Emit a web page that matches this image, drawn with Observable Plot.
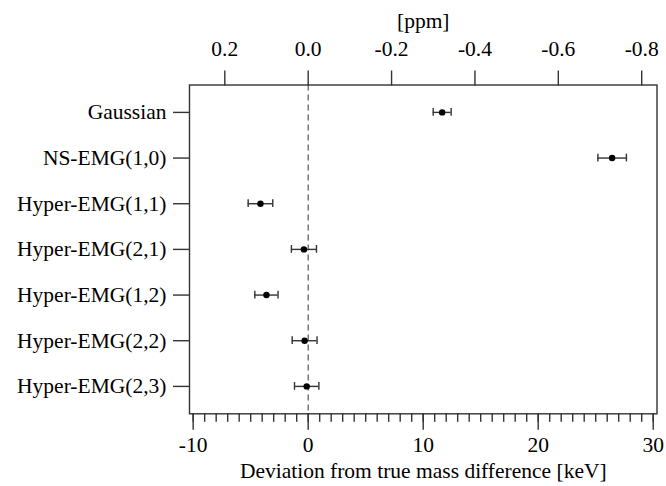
<!DOCTYPE html>
<html><head><meta charset="utf-8">
<script src="https://cdn.jsdelivr.net/npm/d3@7"></script>
<script src="https://cdn.jsdelivr.net/npm/@observablehq/plot@0.6"></script>
<style>html,body{margin:0;padding:0;background:#fff}</style>
</head><body><div id="chart"></div>
<script>
const models = ["Gaussian","NS-EMG(1,0)","Hyper-EMG(1,1)","Hyper-EMG(2,1)","Hyper-EMG(1,2)","Hyper-EMG(2,2)","Hyper-EMG(2,3)"];
const deviations = [11.65, 26.43, -4.15, -0.37, -3.63, -0.31, -0.13];
const uncertainties = [0.78, 1.24, 1.07, 1.09, 1.01, 1.08, 1.06];
const keVTicks = [-10, 0, 10, 20, 30];
const keVMinorTicks = d3.range(-10, 31, 1);
const ppmTicks = [0.2, 0.0, -0.2, -0.4, -0.6, -0.8];
const keVPerPpm = -36.25;
const xTitle = "Deviation from true mass difference [keV]";
const topTitle = "[ppm]";

const rows = models.map((m, i) => ({model: m, row: i + 1, dev: deviations[i], err: uncertainties[i]}));
const capHalf = 0.085;

const chart = Plot.plot({
  width: 666,
  height: 486,
  marginLeft: 189,
  marginRight: 9.5,
  marginTop: 84.5,
  marginBottom: 72.7,
  style: {fontFamily: "'Liberation Serif', serif", fontSize: "21.5px", color: "#000", background: "#fff"},
  x: {domain: [-10.32, 30.33]},
  y: {domain: [0.4, 7.6], reverse: true},
  marks: [
    Plot.ruleX([0], {stroke: "#555", strokeDasharray: "6,4", strokeWidth: 1.2}),
    Plot.ruleY(rows, {y: "row", x1: d => d.dev - d.err, x2: d => d.dev + d.err, stroke: "#333", strokeWidth: 1.4}),
    Plot.ruleX(rows, {x: d => d.dev - d.err, y1: d => d.row - capHalf, y2: d => d.row + capHalf, stroke: "#333", strokeWidth: 1.4}),
    Plot.ruleX(rows, {x: d => d.dev + d.err, y1: d => d.row - capHalf, y2: d => d.row + capHalf, stroke: "#333", strokeWidth: 1.4}),
    Plot.dot(rows, {x: "dev", y: "row", r: 3.2, fill: "#000", stroke: null}),
    Plot.frame({stroke: "#333", strokeWidth: 1.4}),
    Plot.axisY(rows.map(d => d.row), {anchor: "left", tickSize: 16, tickPadding: 7, tickFormat: i => models[i - 1], label: null, stroke: "#333", strokeWidth: 1.4, fill: "#000"}),
    Plot.axisX(keVMinorTicks, {anchor: "bottom", tickSize: 8.5, tickFormat: () => "", label: null, stroke: "#333", strokeWidth: 1.4}),
    Plot.axisX(keVTicks, {anchor: "bottom", tickSize: 16.5, tickPadding: 6, tickFormat: d => String(d), label: null, stroke: "#333", strokeWidth: 1.4, fill: "#000"}),
    Plot.axisX(ppmTicks.map(p => p * keVPerPpm), {anchor: "top", tickSize: 15, tickPadding: 14, tickFormat: v => (v / keVPerPpm).toFixed(1), label: null, stroke: "#333", strokeWidth: 1.4, fill: "#000"}),
    Plot.text([topTitle], {frameAnchor: "top", dy: -64, lineAnchor: "middle", fill: "#000"}),
    Plot.text([xTitle], {frameAnchor: "bottom", dy: 57, lineAnchor: "middle", fill: "#000"})
  ]
});
document.getElementById("chart").appendChild(chart);
</script>
</body></html>
